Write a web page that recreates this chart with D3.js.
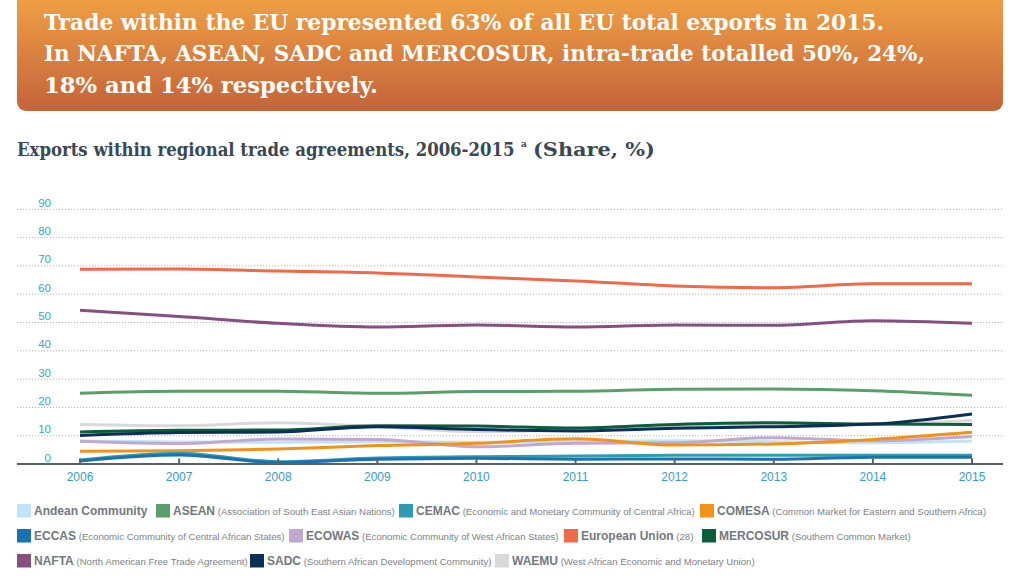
<!DOCTYPE html>
<html><head><meta charset="utf-8">
<script src="https://cdn.jsdelivr.net/npm/d3@7"></script>
<style>
html,body{margin:0;padding:0;background:#fff;}
svg{display:block;}
</style></head>
<body><svg id="c" width="1023" height="582"></svg>
<script>
// ---- data ----
const years = [2006, 2007, 2008, 2009, 2010, 2011, 2012, 2013, 2014, 2015];
const yTicks = [0, 10, 20, 30, 40, 50, 60, 70, 80, 90];
const seriesNames = ["Andean Community","ASEAN","CEMAC","COMESA","ECCAS","ECOWAS","European Union","MERCOSUR","NAFTA","SADC","WAEMU"];
const seriesDesc = ["","(Association of South East Asian Nations)","(Economic and Monetary Community of Central Africa)","(Common Market for Eastern and Southern Africa)","(Economic Community of Central African States)","(Economic Community of West African States)","(28)","(Southern Common Market)","(North American Free Trade Agreement)","(Southern African Development Community)","(West African Economic and Monetary Union)"];
const seriesColors = ["#bfe3f7","#5a9e6a","#2f9bb1","#f39218","#1a72b0","#c0a8d0","#ee6a4b","#0c5e3a","#864f80","#0c2f58","#d9d9d9"];
const andean   = [8.1, 7.8, 7.7, 7.9, 7.7, 8.0, 8.2, 7.9, 7.5, 8.1];
const asean    = [25.0, 25.7, 25.7, 25.0, 25.6, 25.7, 26.4, 26.5, 25.9, 24.3];
const cemac    = [1.4, 3.8, 0.8, 2.1, 2.6, 2.8, 3.1, 3.1, 3.1, 3.1];
const comesa   = [4.5, 4.7, 5.3, 6.5, 7.3, 8.9, 6.7, 7.1, 8.7, 11.2];
const eccas    = [1.1, 3.2, 0.5, 1.7, 2.0, 1.7, 1.8, 1.7, 2.4, 2.4];
const ecowas   = [8.0, 7.2, 8.8, 8.7, 6.1, 7.3, 7.5, 9.3, 8.2, 9.7];
const eu       = [68.8, 68.9, 68.2, 67.5, 66.1, 64.7, 62.9, 62.3, 63.7, 63.7];
const mercosur = [11.3, 11.9, 12.0, 13.5, 13.4, 12.7, 14.0, 14.6, 14.1, 14.0];
const nafta    = [54.3, 52.1, 49.7, 48.4, 49.1, 48.4, 49.1, 49.0, 50.6, 49.7];
const sadc     = [10.1, 11.1, 11.3, 13.2, 12.2, 11.7, 12.6, 13.2, 14.1, 17.7];
const waemu    = [14.0, 13.5, 14.6, 13.2, 11.4, 12.0, 13.2, 13.8, 14.0, 15.4];
const seriesValues = [andean, asean, cemac, comesa, eccas, ecowas, eu, mercosur, nafta, sadc, waemu];
const bannerLines = ["Trade within the EU represented 63% of all EU total exports in 2015.",
  "In NAFTA, ASEAN, SADC and MERCOSUR, intra-trade totalled 50%, 24%,",
  "18% and 14% respectively."];
const subtitleMain = "Exports within regional trade agreements, 2006-2015";
const subtitleSup = "a";
const subtitleEnd = "(Share, %)";

// ---- layout (not data) ----
const legendRows = [[0,1,2,3],[4,5,6,7],[8,9,10]];
const legendX = [[17,156,399,700],[17,289,564,702],[17,250,495]];

// ---- drawing ----
const svg = d3.select("#c");
const defs = svg.append("defs");
const grad = defs.append("linearGradient").attr("id","bg").attr("x1",0).attr("y1",0).attr("x2",0).attr("y2",1);
grad.append("stop").attr("offset","0%").attr("stop-color","#f2a546");
grad.append("stop").attr("offset","100%").attr("stop-color","#c4633a");

svg.append("rect").attr("x",17).attr("y",-12).attr("width",986).attr("height",123)
  .attr("rx",9).attr("fill","url(#bg)");

// text fitted to a width by horizontal scaling
function fitText(g, str, x0, y0, width, font, size, color) {
  const t = g.append("text").attr("x",0).attr("y",0)
    .attr("font-family",font).attr("font-weight","bold").attr("font-size",size)
    .attr("fill",color).text(str);
  const w = t.node().getComputedTextLength();
  t.attr("transform",`translate(${x0},${y0}) scale(${width/w},1)`);
  return t;
}
const bannerW = [841, 881, 334];
bannerLines.forEach((t,i)=>{
  fitText(svg, t, 44, 29.5+i*31.5, bannerW[i], "DejaVu Serif", 22.5, "#fff");
});

const subFont = "DejaVu Serif";
fitText(svg, subtitleMain, 17, 156, 498, subFont, 18, "#3b4853");
svg.append("text").attr("x",521).attr("y",147)
  .attr("font-family",subFont).attr("font-weight","bold").attr("font-size",9)
  .attr("fill","#3b4853").text(subtitleSup);
fitText(svg, subtitleEnd, 533, 156, 122, subFont, 18, "#3b4853");

const x = d3.scaleLinear().domain([2006, 2015]).range([80, 972]);
const y = d3.scaleLinear().domain([0, 90]).range([464, 209.3]);

// gridlines
const grid = svg.append("g");
grid.selectAll("line").data(yTicks.filter(d=>d>0)).join("line")
  .attr("x1",17).attr("x2",1003).attr("y1",d=>y(d)).attr("y2",d=>y(d))
  .attr("stroke","#b3b3b3").attr("stroke-width",1).attr("stroke-dasharray","1.2,1.8");
grid.selectAll("text").data(yTicks).join("text")
  .attr("x",51).attr("y",d=>y(d)-2.5).attr("text-anchor","end")
  .attr("font-family","Liberation Sans, Arial").attr("font-size",11.5).attr("fill","#3fa2c6")
  .text(d=>d);

// lines
const line = d3.line().x((d,i)=>x(years[i])).y(d=>y(d)).curve(d3.curveMonotoneX);
const order = [10,0,5,3,2,4,1,7,9,8,6];
svg.append("g").selectAll("path").data(order).join("path")
  .attr("d",i=>line(seriesValues[i])).attr("fill","none")
  .attr("stroke",i=>seriesColors[i]).attr("stroke-width",3).attr("stroke-linejoin","round");

// x axis
const ax = svg.append("g");
ax.append("line").attr("x1",17).attr("x2",1003).attr("y1",464).attr("y2",464)
  .attr("stroke","#5a6068").attr("stroke-width",2);
ax.selectAll(".tk").data(years).join("line").attr("class","tk")
  .attr("x1",d=>x(d)).attr("x2",d=>x(d)).attr("y1",458.5).attr("y2",464)
  .attr("stroke","#5a6068").attr("stroke-width",2);
ax.selectAll("text").data(years).join("text")
  .attr("x",d=>x(d)).attr("y",481).attr("text-anchor","middle")
  .attr("font-family","Liberation Sans, Arial").attr("font-size",12).attr("fill","#3a9cc4")
  .text(d=>d);

// legend
const lg = svg.append("g");
legendRows.forEach((r,ri)=>{
  const top = 504 + ri*25;
  r.forEach((i,k)=>{
    const cx = legendX[ri][k];
    lg.append("rect").attr("x",cx).attr("y",top).attr("width",14).attr("height",13.5).attr("fill",seriesColors[i]);
    const t = lg.append("text").attr("x",cx+17).attr("y",top+11)
      .attr("font-family","Liberation Sans, Arial").attr("fill","#73787e");
    t.append("tspan").attr("font-weight","bold").attr("font-size",12).text(seriesNames[i]);
    if (seriesDesc[i]) t.append("tspan").attr("font-size",9.6).attr("fill","#7d8288").text(" " + seriesDesc[i]);
  });
});
</script></body></html>
